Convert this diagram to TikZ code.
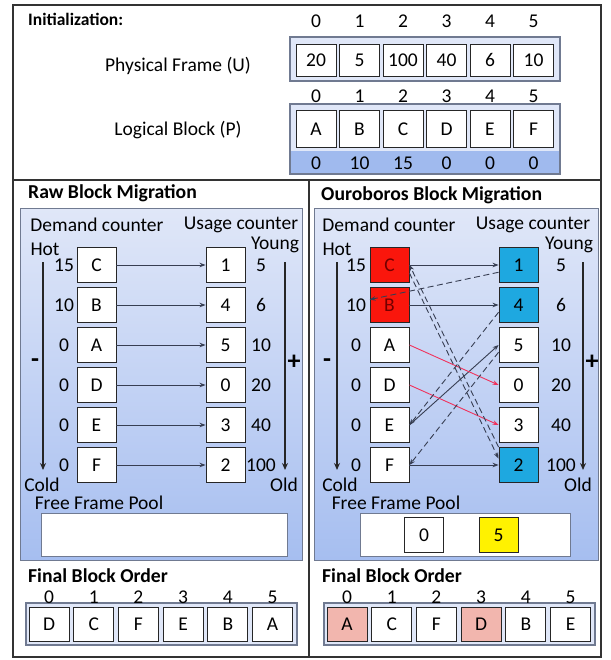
\documentclass[tikz,border=0pt]{standalone}
\usepackage{fontspec}
\setmainfont{Carlito}
\usetikzlibrary{arrows.meta}

\definecolor{panelTop}{RGB}{224,231,248}
\definecolor{panelBot}{RGB}{166,190,240}
\definecolor{rowBlue}{RGB}{160,186,238}
\definecolor{hotRed}{RGB}{250,22,12}
\definecolor{youngBlue}{RGB}{30,168,224}
\definecolor{pinkCell}{RGB}{242,182,174}
\definecolor{moveRed}{RGB}{240,50,92}
\definecolor{lineGray}{RGB}{55,62,82}
\definecolor{frameGray}{RGB}{112,122,145}

\newcommand{\bodyfont}{\fontsize{19.5}{22}\selectfont}
\newcommand{\headfont}{\fontsize{19.7}{22}\selectfont\bfseries}

\begin{document}
\begin{tikzpicture}[x=1pt,y=-1pt,
	every node/.style={font=\bodyfont, inner sep=0pt},
	cell/.style={draw=black!85, fill=white, line width=0.9pt, minimum width=39pt, minimum height=35pt},
	holder/.style={draw=frameGray, line width=1.1pt},
	panel/.style={draw=frameGray, line width=0.9pt, top color=panelTop, bottom color=panelBot},
	headtext/.style={font=\headfont, anchor=west},
	link/.style={draw=lineGray, line width=0.9pt, -{Stealth[length=6pt,width=4.5pt]}},
	backlink/.style={link, dash pattern=on 6pt off 3.5pt},
	movelink/.style={link, draw=moveRed},
	axisline/.style={draw=black!85, line width=1.4pt, -{Stealth[length=7pt,width=6pt]}},
	signtext/.style={font=\fontsize{26}{26}\selectfont\bfseries}
]
	\useasboundingbox (0,0) rectangle (610,660);
	% outer frame
	\draw[black!80, line width=1.2pt] (13,5) rectangle (601,657);
	\draw[black!80, line width=1.2pt] (13,180) -- (601,180);
	\draw[black!80, line width=1.2pt] (309,180) -- (309,657);

	% initialization
	\node[headtext, font=\fontsize{17.5}{20}\selectfont\bfseries] (initT) at (28,19) {Initialization:};
	\node (pfLabel) at (178,66) {Physical Frame (U)};
	\draw[holder, fill=panelTop] (290,37) rectangle (560,81);
	\foreach \v [count=\i from 0] in {20,5,100,40,6,10} {
		\pgfmathsetmacro{\cx}{316+43.5*\i}
		\node (pfi\i) at (\cx,21) {\i};
		\node[cell, minimum height=32pt, minimum width=40pt] (pf\i) at (\cx,60) {\v};
	}
	\node (lbLabel) at (178,130) {Logical Block (P)};
	\fill[panelTop] (290,104) rectangle (560,151);
	\fill[rowBlue] (290,151) rectangle (560,174);
	\draw[holder] (290,104) rectangle (560,174);
	\foreach \b/\d [count=\i from 0] in {A/0,B/10,C/15,D/0,E/0,F/0} {
		\pgfmathsetmacro{\cx}{316+43.5*\i}
		\node (lbi\i) at (\cx,96) {\i};
		\node[cell, minimum height=37pt, minimum width=40pt] (lb\i) at (\cx,129) {\b};
		\node (lbd\i) at (\cx,163) {\d};
	}

	% raw block migration
	\node[headtext] (rawT) at (28,193) {Raw Block Migration};
	\draw[panel] (20,208) rectangle (302,560);
	\node (rDem) at (97,225) {Demand counter};
	\node (rUse) at (241,225) {Usage counter};
	\node (rHot) at (45,249) {Hot};
	\node (rYoung) at (275,245) {Young};
	\node (rCold) at (42,485) {Cold};
	\node (rOld) at (284,485) {Old};
	\coordinate (rTopL) at (43,262);
	\coordinate (rBotL) at (43,470);
	\coordinate (rTopR) at (285,262);
	\coordinate (rBotR) at (285,470);
	\draw[axisline] (rTopL) -- (rBotL);
	\draw[axisline] (rTopR) -- (rBotR);
	\node[signtext] (rMinus) at (35,363) {-};
	\node[signtext] (rPlus) at (294,362) {+};
	\foreach \b/\d [count=\i from 0] in {C/15,B/10,A/0,D/0,E/0,F/0} {
		\pgfmathsetmacro{\cy}{265+40*\i}
		\node (rd\b) at (64,\cy) {\d};
		\node[cell] (rb\b) at (96.5,\cy) {\b};
	}
	\foreach \u/\c [count=\i from 0] in {1/5,4/6,5/10,0/20,3/40,2/100} {
		\pgfmathsetmacro{\cy}{265+40*\i}
		\node[cell] (ru\u) at (225.5,\cy) {\u};
		\node (rc\u) at (261,\cy) {\c};
	}
	\foreach \b/\u in {C/1,B/4,A/5,D/0,E/3,F/2}
		\draw[link] (rb\b.east) -- (ru\u.west);
	\node (rPoolT) at (99,503) {Free Frame Pool};
	\node[draw=frameGray, fill=white, line width=1pt, minimum width=246pt, minimum height=43pt] (rPool) at (164,535) {};

	\node[headtext] (rFinT) at (28,576) {Final Block Order};
	\draw[holder, fill=panelTop] (26,603) rectangle (297,645);
	\foreach \b [count=\i from 0] in {D,C,F,E,B,A} {
		\pgfmathsetmacro{\cx}{49+44.7*\i}
		\node (rfi\i) at (\cx,597) {\i};
		\node[cell, minimum width=40pt, minimum height=34pt] (rf\i) at (\cx,624) {\b};
	}

	% ouroboros block migration
	\node[headtext] (ouroT) at (321,195) {Ouroboros Block Migration};
	\draw[panel] (314,208) rectangle (598,560);
	\node (oDem) at (389,225) {Demand counter};
	\node (oUse) at (533,225) {Usage counter};
	\node (oHot) at (337,249) {Hot};
	\node (oYoung) at (569,245) {Young};
	\node (oCold) at (340,485) {Cold};
	\node (oOld) at (578,485) {Old};
	\coordinate (oTopL) at (337,262);
	\coordinate (oBotL) at (337,470);
	\coordinate (oTopR) at (583,262);
	\coordinate (oBotR) at (583,470);
	\draw[axisline] (oTopL) -- (oBotL);
	\draw[axisline] (oTopR) -- (oBotR);
	\node[signtext] (oMinus) at (327,363) {-};
	\node[signtext] (oPlus) at (592,362) {+};
	\foreach \b/\d/\f/\t [count=\i from 0] in {C/15/hotRed/red!45!black,B/10/hotRed/red!45!black,A/0/white/black,D/0/white/black,E/0/white/black,F/0/white/black} {
		\pgfmathsetmacro{\cy}{265+40*\i}
		\node (od\b) at (356,\cy) {\d};
		\node[cell, fill=\f, text=\t] (ob\b) at (389.5,\cy) {\b};
	}
	\foreach \u/\c/\f [count=\i from 0] in {1/5/youngBlue,4/6/youngBlue,5/10/white,0/20/white,3/40/white,2/100/youngBlue} {
		\pgfmathsetmacro{\cy}{265+40*\i}
		\node[cell, fill=\f] (ou\u) at (518.5,\cy) {\u};
		\node (oc\u) at (561,\cy) {\c};
	}
	\foreach \b/\u in {C/1,B/4,E/5,F/2}
		\draw[link] (ob\b.east) -- (ou\u.west);
	\draw[movelink] (obA.east) -- (ou0.west);
	\draw[movelink] (obD.east) -- (ou3.west);
	\draw[backlink] (ou1.200) -- (obB.165);
	\draw[backlink] (ou2.north west) -- (obC.east);
	\draw[backlink] (obC.-22) -- (ou2.162);
	\draw[backlink] (ou4.200) -- (obE.east);
	\draw[backlink] (ou5.200) -- (obF.east);
	\node (oPoolT) at (396,503) {Free Frame Pool};
	\node[draw=frameGray, fill=white, line width=1pt, minimum width=210pt, minimum height=43pt] (oPool) at (465,535) {};
	\node[cell] (oFree0) at (424,535) {0};
	\node[cell, fill=yellow] (oFree5) at (498.5,535) {5};

	\node[headtext] (oFinT) at (322,576) {Final Block Order};
	\draw[holder, fill=panelTop] (324,603) rectangle (595,645);
	\foreach \b/\f [count=\i from 0] in {A/pinkCell,C/white,F/white,D/pinkCell,B/white,E/white} {
		\pgfmathsetmacro{\cx}{347+44.7*\i}
		\node (ofi\i) at (\cx,597) {\i};
		\node[cell, minimum width=40pt, minimum height=34pt, fill=\f] (of\i) at (\cx,624) {\b};
	}
\end{tikzpicture}
\end{document}
